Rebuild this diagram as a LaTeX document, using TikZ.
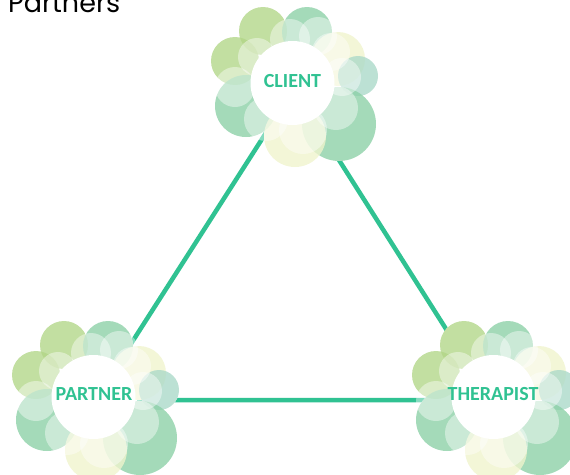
\documentclass[tikz,border=0pt]{standalone}
\usepackage{fontspec}
\newfontfamily\titlefont{Poppins}
\newfontfamily\lblfont{Carlito}
\definecolor{teal}{RGB}{48,194,146}
\definecolor{olive}{RGB}{178,214,135}
\definecolor{leaf}{RGB}{139,208,166}
\definecolor{cream}{RGB}{240,244,205}
\definecolor{mist}{RGB}{170,217,200}
\tikzset{
  link/.style={draw=teal, line width=4.5pt},
  blob/.style={fill opacity=0.78},
  veil/.style={fill=white, fill opacity=0.42},
  lbl/.style={text=teal, font=\lblfont\bfseries\fontsize{20}{24}\selectfont, inner sep=0pt},
  heading/.style={font=\titlefont\fontsize{27}{30}\selectfont, text=black, inner sep=0pt},
  cluster/.pic={
    % opaque white base hides the connectors
    \fill[white] (-25,-48) circle[radius=24pt] (19,-47) circle[radius=25pt]
      (-53,-18) circle[radius=24pt] (50,-20) circle[radius=27pt]
      (70,-3) circle[radius=20pt] (-42,27) circle[radius=31pt]
      (51,45) circle[radius=37pt] (7,57) circle[radius=31pt] (4,4) circle[radius=44pt];
    \fill[blob, olive] (-25,-48) circle[radius=24pt];
    \fill[blob, leaf] (19,-47) circle[radius=25pt];
    \fill[blob, olive] (-53,-18) circle[radius=24pt];
    \fill[blob, cream] (50,-20) circle[radius=27pt];
    \fill[blob, mist] (70,-3) circle[radius=20pt];
    \fill[blob, leaf] (-42,27) circle[radius=31pt];
    \fill[blob, leaf] (51,45) circle[radius=37pt];
    \fill[blob, cream] (7,57) circle[radius=31pt];
    \fill[veil] (2,-40) circle[radius=20pt];
    \fill[veil] (30,-43) circle[radius=19pt];
    \fill[veil] (-31,-22) circle[radius=19pt];
    \fill[veil] (-53,8) circle[radius=20pt];
    \fill[veil] (-22,40) circle[radius=22pt];
    \fill[veil] (15,51) circle[radius=24pt];
    \fill[veil] (48,29) circle[radius=22pt];
    \fill[veil] (54,-2) circle[radius=19pt];
    \fill[veil] (43,-27) circle[radius=19pt];
    \fill[white] (4.5,4) circle[radius=42pt];
  }
}
\begin{document}
\begin{tikzpicture}[x=1pt, y=-1pt]
\useasboundingbox (0,0) rectangle (570,474);
\clip (0,0) rectangle (570,474);
\node[heading, anchor=base west] (title) at (8,12.5) {Partners};
\coordinate (vc) at (294,89);
\coordinate (vp) at (95,400);
\coordinate (vt) at (491,400);
\draw[link] (vc) -- (vp) -- (vt) -- cycle;
\pic at (288,79) {cluster};
\pic at (89,393) {cluster};
\pic at (489,393) {cluster};
\node[lbl] (client) at (292.5,81.5) {CLIENT};
\node[lbl] (partner) at (94,394) {PARTNER};
\node[lbl] (therapist) at (493,394) {THERAPIST};
\end{tikzpicture}
\end{document}
